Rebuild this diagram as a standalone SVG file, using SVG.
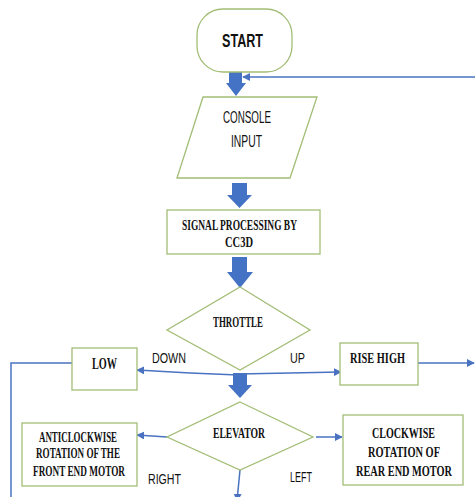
<svg xmlns="http://www.w3.org/2000/svg" width="475" height="497" viewBox="0 0 475 497">
<style>
.node{fill:#fff;stroke:#a3bd76;stroke-width:1.3}
.thin{fill:none;stroke:#4a72c0;stroke-width:1.5}
.fat{fill:#4472c4}
.sans{font-family:"Liberation Sans Narrow","Liberation Sans",Arial,sans-serif;fill:#111}
.serif{font-family:"Liberation Serif","Times New Roman",serif;font-weight:bold;fill:#111}
</style>
<defs>
<marker id="ah" viewBox="0 0 10 10" refX="9" refY="5" markerWidth="8" markerHeight="8" markerUnits="userSpaceOnUse" orient="auto">
<path d="M0,0 L10,5 L0,10 z" fill="#4a72c0"/>
</marker>
</defs>
<rect width="475" height="497" fill="#fff"/>
<g id="connectors">
<path class="fat" d="M229,72 H242 V83 H246 L236,96 L226,83 H229 Z"/>
<path class="fat" d="M232,183 H247 V195 H252 L239.5,208 L227,195 H232 Z"/>
<path class="fat" d="M232,257 H247 V272 H253 L240,288 L227,272 H232 Z"/>
<path class="fat" d="M233,373 H247 V385 H252 L240,398 L228,385 H233 Z"/>
<path class="thin" d="M475,77 H243" marker-end="url(#ah)"/>
<path class="thin" d="M238,375 L190,373 L137,370" marker-end="url(#ah)"/>
<path class="thin" d="M238,374 L290,373 L341,372" marker-end="url(#ah)"/>
<path class="thin" d="M418,363 H474" marker-end="url(#ah)"/>
<path class="thin" d="M72,363 H11 V497"/>
<path class="thin" d="M167,437 L137,435" marker-end="url(#ah)"/>
<path class="thin" d="M316,437 L342,437" marker-end="url(#ah)"/>
<path class="thin" d="M240,470 L237,501" marker-end="url(#ah)"/>
</g>
<g id="start">
<rect class="node" x="197" y="9" width="95" height="63" rx="26" ry="26"/>
<text class="sans" x="242.5" y="47" font-size="18" font-weight="bold" text-anchor="middle" textLength="41" lengthAdjust="spacingAndGlyphs">START</text>
</g>
<g id="console-input">
<polygon class="node" points="203,97 317,97 290,178 177,178"/>
<text class="sans" x="247" y="123" font-size="17" text-anchor="middle" textLength="48" lengthAdjust="spacingAndGlyphs">CONSOLE</text>
<text class="sans" x="246.5" y="147" font-size="17" text-anchor="middle" textLength="31" lengthAdjust="spacingAndGlyphs">INPUT</text>
</g>
<g id="signal-processing">
<rect class="node" x="167" y="210" width="153" height="44"/>
<text class="serif" x="239.5" y="230" font-size="14" text-anchor="middle" textLength="115" lengthAdjust="spacingAndGlyphs">SIGNAL PROCESSING BY</text>
<text class="serif" x="239" y="247" font-size="14" text-anchor="middle" textLength="28" lengthAdjust="spacingAndGlyphs">CC3D</text>
</g>
<g id="throttle">
<polygon class="node" points="240,287 310,330 240,370 167,330"/>
<text class="serif" x="238" y="327" font-size="14" text-anchor="middle" textLength="50" lengthAdjust="spacingAndGlyphs">THROTTLE</text>
</g>
<g id="low">
<rect class="node" x="72" y="348" width="65" height="42"/>
<text class="serif" x="104.5" y="369" font-size="17" text-anchor="middle" textLength="25" lengthAdjust="spacingAndGlyphs">LOW</text>
</g>
<g id="rise-high">
<rect class="node" x="340" y="343" width="78" height="42"/>
<text class="serif" x="377.5" y="363" font-size="15" text-anchor="middle" textLength="55" lengthAdjust="spacingAndGlyphs">RISE HIGH</text>
</g>
<g id="elevator">
<polygon class="node" points="240,402 313,437 240,470 167,437"/>
<text class="serif" x="239" y="438" font-size="14" text-anchor="middle" textLength="52" lengthAdjust="spacingAndGlyphs">ELEVATOR</text>
</g>
<g id="anticlockwise">
<rect class="node" x="22" y="423" width="115" height="63"/>
<text class="serif" x="78" y="442" font-size="14" text-anchor="middle" textLength="78" lengthAdjust="spacingAndGlyphs">ANTICLOCKWISE</text>
<text class="serif" x="78" y="458" font-size="14" text-anchor="middle" textLength="84" lengthAdjust="spacingAndGlyphs">ROTATION OF THE</text>
<text class="serif" x="79" y="476" font-size="14" text-anchor="middle" textLength="92" lengthAdjust="spacingAndGlyphs">FRONT END MOTOR</text>
</g>
<g id="clockwise">
<rect class="node" x="343" y="415" width="120" height="70"/>
<text class="serif" x="403.5" y="438" font-size="15" text-anchor="middle" textLength="63" lengthAdjust="spacingAndGlyphs">CLOCKWISE</text>
<text class="serif" x="404" y="457" font-size="15" text-anchor="middle" textLength="72" lengthAdjust="spacingAndGlyphs">ROTATION OF</text>
<text class="serif" x="404" y="476" font-size="15" text-anchor="middle" textLength="96" lengthAdjust="spacingAndGlyphs">REAR END MOTOR</text>
</g>
<g id="labels">
<text class="sans" x="152" y="363" font-size="14" textLength="34" lengthAdjust="spacingAndGlyphs">DOWN</text>
<text class="sans" x="290" y="363" font-size="14" textLength="15" lengthAdjust="spacingAndGlyphs">UP</text>
<text class="sans" x="148" y="484" font-size="14" textLength="33" lengthAdjust="spacingAndGlyphs">RIGHT</text>
<text class="sans" x="290" y="482" font-size="14" textLength="22" lengthAdjust="spacingAndGlyphs">LEFT</text>
</g>
</svg>
